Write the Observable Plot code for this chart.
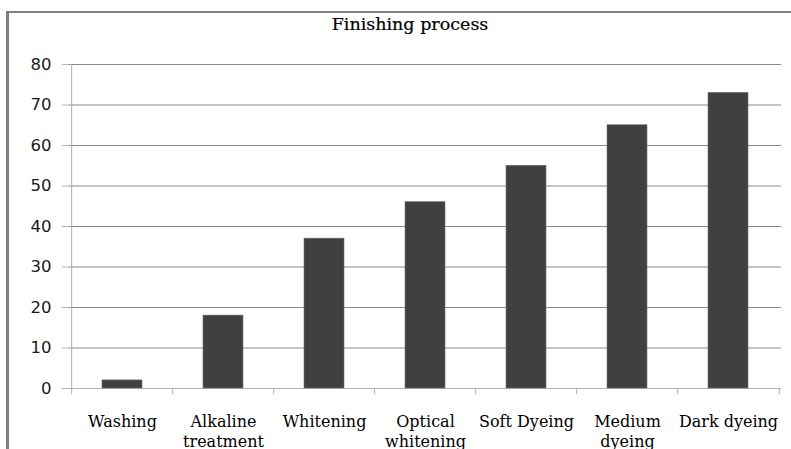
<!DOCTYPE html>
<html><head><meta charset="utf-8">
<script src="https://cdn.jsdelivr.net/npm/d3@7"></script>
<script src="https://cdn.jsdelivr.net/npm/@observablehq/plot@0.6"></script>
<style>
html,body{margin:0;padding:0;background:#fff;overflow:hidden}
#wrap{position:relative;width:791px;height:449px;overflow:hidden;background:#fff}
#frame{position:absolute;left:6px;top:11px;width:820px;height:480px;border-left:3px solid #808080;border-top:2px solid #808080;box-sizing:border-box}
#title{position:absolute;left:0;width:820px;top:14px;text-align:center;font-family:"DejaVu Serif",serif;font-size:17.5px;line-height:20px;color:#000;-webkit-text-stroke:0.2px #000}
#plot{position:absolute;left:0;top:0}
</style></head><body>
<div id="wrap"><div id="frame"></div><div id="title"></div><div id="plot"></div></div>
<script>
const title = "Finishing process";
const categories = ["Washing", "Alkaline treatment", "Whitening", "Optical whitening", "Soft Dyeing", "Medium dyeing", "Dark dyeing"];
const tickLabels = ["Washing", "Alkaline\ntreatment", "Whitening", "Optical\nwhitening", "Soft Dyeing", "Medium\ndyeing", "Dark dyeing"];
const values = [2, 18, 37, 46, 55, 65, 73];
const yTicks = [0, 10, 20, 30, 40, 50, 60, 70, 80];
const gridTicks = [10, 20, 30, 40, 50, 60, 70, 80];

document.getElementById("title").textContent = title;

const data = categories.map((c, i) => ({category: c, value: values[i]}));

const W = 791, H = 449, mL = 69, mR = 10, mT = 64, mB = 61;
const step = (W - mL - mR) / categories.length;

const chart = Plot.plot({
  width: W,
  height: H,
  marginLeft: mL,
  marginRight: mR,
  marginTop: mT,
  marginBottom: mB,
  style: {background: "transparent", overflow: "visible", fontFamily: "'DejaVu Sans', sans-serif"},
  x: {domain: categories, paddingInner: 0.6, paddingOuter: 0.3, axis: null},
  y: {domain: [0, 80], axis: null},
  marks: [
    Plot.gridY(gridTicks, {stroke: "#8a8a8a", strokeOpacity: 1}),
    Plot.ruleY([0], {stroke: "#b3b3b3"}),
    Plot.ruleX([categories[0]], {x: d => d, y1: 80, y2: 0, dx: -step / 2, insetBottom: -6, stroke: "#b3b3b3"}),
    Plot.ruleX(categories.slice(1), {x: d => d, y1: 0, y2: 0, dx: -step / 2, insetBottom: -6, stroke: "#b3b3b3"}),
    Plot.ruleX(categories.slice(-1), {x: d => d, y1: 0, y2: 0, dx: step / 2, insetBottom: -6, stroke: "#b3b3b3"}),
    Plot.barY(data, {x: "category", y: "value", fill: "#404040", stroke: "#707070", strokeWidth: 0.6}),
    Plot.axisY(yTicks, {tickSize: 7, tickPadding: 11, stroke: "#b3b3b3", fill: "#1a1a1a", fontSize: 16.5, label: null}),
    Plot.axisX({tickSize: 0, tickPadding: 24, tickFormat: d => tickLabels[categories.indexOf(d)], fontSize: 16, fontFamily: "'DejaVu Serif', serif", lineHeight: 1.25, fill: "#000", label: null})
  ]
});
document.getElementById("plot").appendChild(chart);
</script>
</body></html>
